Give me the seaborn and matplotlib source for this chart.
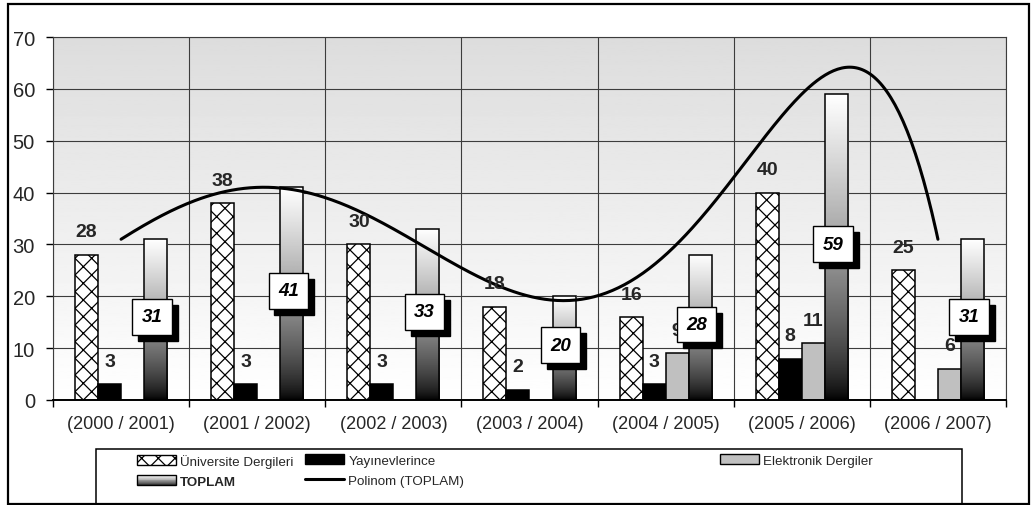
import numpy as np
import pandas as pd
import matplotlib
matplotlib.use("Agg")
import matplotlib.pyplot as plt
from matplotlib.patches import Patch, Rectangle
from matplotlib.lines import Line2D
from matplotlib.legend_handler import HandlerBase
import seaborn as sns

# -----------------------------
# DATA
# -----------------------------
years = ["(2000 / 2001)", "(2001 / 2002)", "(2002 / 2003)", "(2003 / 2004)",
         "(2004 / 2005)", "(2005 / 2006)", "(2006 / 2007)"]
universite = [28, 38, 30, 18, 16, 40, 25]
yayinevlerince = [3, 3, 3, 2, 3, 8, np.nan]
elektronik = [np.nan, np.nan, np.nan, np.nan, 9, 11, 6]
toplam = [31, 41, 33, 20, 28, 59, 31]
series_names = ["Üniversite Dergileri", "Yayınevlerince", "Elektronik Dergiler", "TOPLAM"]
trend_label = "Polinom (TOPLAM)"
y_ticks = list(range(0, 80, 10))

df = pd.DataFrame({
    "year": years * 4,
    "series": np.repeat(series_names, len(years)),
    "value": universite + yayinevlerince + elektronik + toplam,
})

# -----------------------------
# STYLE
# -----------------------------
sns.set_style("white")
plt.rcParams["font.family"] = ["Liberation Sans", "DejaVu Sans"]
plt.rcParams["hatch.linewidth"] = 0.9

W, H = 1032, 506
fig = plt.figure(figsize=(W / 100, H / 100), dpi=100)
ax = fig.add_axes([53 / W, 1 - 401 / H, (1006 - 53) / W, (401 - 38) / H])

ax = sns.barplot(
    data=df, x="year", y="value", hue="series",
    order=years, hue_order=series_names,
    palette=["white", "black", "#c0c0c0", "#808080"],
    width=0.676, errorbar=None, legend=False, ax=ax,
)

cont_u, cont_y, cont_e, cont_t = ax.containers

for b in cont_u:
    b.set_facecolor("white")
    b.set_edgecolor("black")
    b.set_hatch("xx")
    b.set_linewidth(1.1)
for b in cont_y:
    b.set_facecolor("black")
    b.set_edgecolor("black")
    b.set_linewidth(1.1)
for b in cont_e:
    b.set_facecolor("#c0c0c0")
    b.set_edgecolor("black")
    b.set_linewidth(1.1)

# gradient fill for TOPLAM (white top -> black bottom)
grad = np.linspace(0, 1, 256)[:, None] ** 0.7
for b in cont_t:
    x0, y0, w, h = b.get_x(), b.get_y(), b.get_width(), b.get_height()
    b.set_facecolor("none")
    b.set_edgecolor("black")
    b.set_linewidth(1.1)
    b.set_zorder(2)
    im = ax.imshow(grad, extent=(x0, x0 + w, y0, y0 + h), origin="lower",
                   cmap="gray", vmin=0, vmax=1, aspect="auto", zorder=1.5)
    im.set_clip_path(b)

# plot-area background gradient
bg = np.linspace(0.865, 1.0, 256)[:, None]
ax.imshow(bg, extent=(0, 1, 0, 1), transform=ax.transAxes, cmap="gray",
          vmin=0, vmax=1, aspect="auto", zorder=0)

# polynomial trendline
xpos = np.arange(len(years))
coef = np.polyfit(xpos, toplam, 6)
xs = np.linspace(0, len(years) - 1, 400)
ax.plot(xs, np.polyval(coef, xs), color="black", lw=2.2, zorder=4)

# value labels
for cont in (cont_u, cont_y, cont_e):
    for b in cont:
        h = b.get_height()
        if np.isnan(h) or h == 0:
            continue
        ax.annotate(f"{h:.0f}", (b.get_x() + b.get_width() / 2, h),
                    xytext=(0, 16.5), textcoords="offset points",
                    ha="center", va="center", fontsize=14, fontweight="bold", zorder=6)

for b in cont_t:
    h = b.get_height()
    cx = b.get_x() + b.get_width() / 2
    ax.annotate(f"{h:.0f}", (cx, h / 2), xytext=(-2.5 + 4.3, 2 - 4.3),
                textcoords="offset points", ha="center", va="center",
                fontsize=13.5, fontweight="bold", fontstyle="italic", color="black",
                bbox=dict(boxstyle="square,pad=0.5", fc="black", ec="black"), zorder=6)
    ax.annotate(f"{h:.0f}", (cx, h / 2), xytext=(-2.5, 2),
                textcoords="offset points", ha="center", va="center",
                fontsize=13.5, fontweight="bold", fontstyle="italic", color="black",
                bbox=dict(boxstyle="square,pad=0.5", fc="white", ec="black", lw=1), zorder=7)

# axes
ax.set_xlim(-0.5, len(years) - 0.5)
ax.set_ylim(0, 70)
ax.set_yticks(y_ticks)
ax.set_xticks(np.arange(-0.5, len(years), 1), minor=True)
ax.set_xlabel("")
ax.set_ylabel("")
ax.tick_params(axis="x", which="major", length=0, pad=11, labelsize=13, bottom=True)
ax.tick_params(axis="x", which="minor", length=5, width=1, color="black",
               direction="out", bottom=True)
ax.tick_params(axis="y", length=5, width=1, color="black", direction="out",
               pad=8, labelsize=14.5, left=True)
ax.set_axisbelow(True)
ax.grid(which="major", axis="y", color="#3c3c3c", lw=0.8)
ax.grid(which="minor", axis="x", color="#3c3c3c", lw=0.8)
ax.grid(which="major", axis="x", visible=False)
for s in ax.spines.values():
    s.set_color("#3c3c3c")
    s.set_linewidth(0.8)
ax.spines["bottom"].set_color("black")
ax.spines["bottom"].set_linewidth(1.4)

# figure border and legend frame
fig.patches.append(Rectangle((8 / W, 1 - 505 / H), (1029 - 8) / W, (505 - 5) / H,
                             transform=fig.transFigure, fill=False, ec="black", lw=1.6))
fig.patches.append(Rectangle((96 / W, 1 - 505 / H), (962 - 96) / W, (505 - 450) / H,
                             transform=fig.transFigure, fill=False, ec="black", lw=1.1))


class GradientHandler(HandlerBase):
    def create_artists(self, legend, orig_handle, xdescent, ydescent,
                       width, height, fontsize, trans):
        arts = []
        n = 12
        for i in range(n):
            g = ((i + 0.5) / n) ** 0.7
            arts.append(Rectangle((-xdescent, -ydescent + i * height / n), width,
                                  height / n, fc=str(g), ec="none", transform=trans))
        arts.append(Rectangle((-xdescent, -ydescent), width, height, fill=False,
                              ec="black", lw=1, transform=trans))
        return arts


h_u = Patch(facecolor="white", edgecolor="black", hatch="xx", lw=1)
h_y = Patch(facecolor="black", edgecolor="black")
h_e = Patch(facecolor="#c0c0c0", edgecolor="black", lw=1)
h_t = Patch(facecolor="#888888", edgecolor="black")
h_l = Line2D([], [], color="black", lw=2.2)

leg_font = dict(family=["Liberation Sans", "DejaVu Sans"], size=9.6)
columns = [
    (137, [h_u, h_t], [series_names[0], series_names[3]]),
    (305, [h_y, h_l], [series_names[1], trend_label]),
    (720, [h_e], [series_names[2]]),
]
for xpx, hs, ls in columns:
    leg = fig.legend(hs, ls, loc="upper left", bbox_to_anchor=(xpx / W, 1 - 455 / H),
                     frameon=False, borderpad=0, borderaxespad=0, handlelength=2.9,
                     handleheight=0.8, handletextpad=0.35, labelspacing=0.55,
                     prop=leg_font, handler_map={h_t: GradientHandler()})
    for t in leg.get_texts():
        if t.get_text() == "TOPLAM":
            t.set_fontweight("bold")

fig.savefig("out.png", dpi=100)
